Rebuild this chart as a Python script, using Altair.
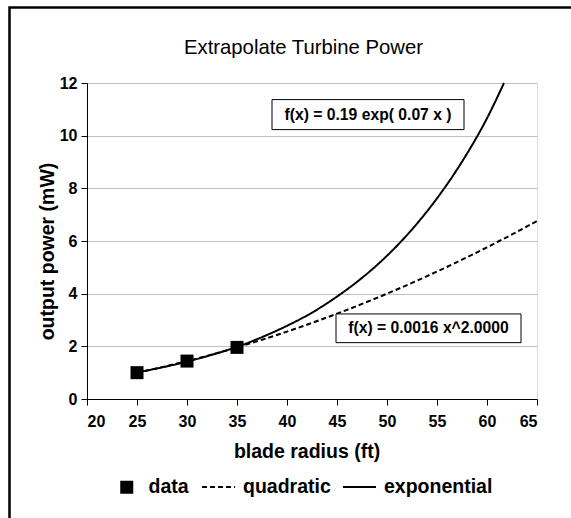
import altair as alt
import pandas as pd

FONT = "Liberation Sans"

series_names = ["data", "quadratic", "exponential"]

# measured data points
radius = [25, 30, 35]
power = [1.00, 1.44, 1.96]

# quadratic (power-law) trend line
quad_x = [25, 27.5, 30, 32.5, 35, 37.5, 40, 42.5, 45, 47.5, 50, 52.5, 55, 57.5, 60, 62.5, 65]
quad_y = [1.00, 1.21, 1.44, 1.69, 1.96, 2.25, 2.56, 2.89, 3.24, 3.61, 4.00, 4.41, 4.84, 5.29, 5.76, 6.25, 6.76]

# exponential trend line
exp_x = [25, 27.5, 30, 32.5, 35, 37.5, 40, 42.5, 45, 47.5, 50, 52.5, 55, 57.5, 60, 61.7]
exp_y = [1.01, 1.20, 1.42, 1.68, 1.98, 2.35, 2.78, 3.28, 3.89, 4.60, 5.44, 6.44, 7.62, 9.01, 10.66, 12.0]

# fit annotations (text, centre, and box corners in data units)
fit_text = ["f(x) = 0.19 exp( 0.07 x )", "f(x) = 0.0016 x^2.0000"]
fit_cx = [48.1, 54.15]
fit_cy = [10.77, 2.68]
box_x1 = [38.5, 44.9]
box_x2 = [57.7, 63.4]
box_y1 = [11.37, 3.23]
box_y2 = [10.23, 2.14]

pts = pd.DataFrame({"x": radius, "y": power, "series": [series_names[0]] * len(radius)})
lines = pd.concat([
    pd.DataFrame({"x": quad_x, "y": quad_y, "series": series_names[1]}),
    pd.DataFrame({"x": exp_x, "y": exp_y, "series": series_names[2]}),
])
ann = pd.DataFrame({"text": fit_text, "cx": fit_cx, "cy": fit_cy,
                    "x1": box_x1, "x2": box_x2, "y1": box_y1, "y2": box_y2})

W, H = 450, 316

xscale = alt.Scale(domain=[20, 65], nice=False, zero=False)
yscale = alt.Scale(domain=[0, 12], nice=False)

xaxis = alt.Axis(values=list(range(20, 66, 5)), grid=False, title="blade radius (ft)",
                 domainColor="black", tickColor="black", tickSize=6,
                 labelFont=FONT, labelFontSize=16, labelFontWeight="bold", labelColor="black",
                 labelPadding=8,
                 titleFont=FONT, titleFontSize=19.5, titleFontWeight="bold", titleColor="black",
                 titleBaseline="alphabetic", titleY=58.7, titleX=219.5)
yaxis = alt.Axis(values=list(range(0, 13, 2)), grid=True, gridColor="#c0c0c0", title="output power (mW)",
                 domainColor="black", tickColor="black", tickSize=6,
                 labelFont=FONT, labelFontSize=16, labelFontWeight="bold", labelColor="black",
                 labelPadding=4,
                 titleFont=FONT, titleFontSize=19.5, titleFontWeight="bold", titleColor="black",
                 titleBaseline="alphabetic", titleX=-34, titleY=168)

legend_style = dict(
    title=None, orient="none", direction="horizontal",
    labelFont=FONT, labelFontSize=19.5, labelFontWeight="bold", labelColor="black",
    padding=0, symbolOpacity=1,
)
legend_points = alt.Legend(legendX=30, legendY=394.5, symbolSize=169, labelOffset=12,
                           columnPadding=14,
                           symbolFillColor="black", symbolStrokeWidth=0, **legend_style)
legend_lines = alt.Legend(legendX=114, legendY=386.5, symbolSize=1089, labelOffset=7,
                          columnPadding=8,
                          symbolStrokeColor="black", symbolStrokeWidth=2, symbolType="stroke",
                          **legend_style)

frame = alt.Chart(pd.DataFrame({"k": [0]})).mark_rect(
    filled=False, stroke="black", strokeWidth=2.5, clip=False
).encode(x=alt.value(-77.5), x2=alt.value(W + 60), y=alt.value(-75.5), y2=alt.value(H + 140))

line_layer = alt.Chart(lines).mark_line(color="black", strokeWidth=2, interpolate="monotone").encode(
    x=alt.X("x:Q", scale=xscale, axis=xaxis),
    y=alt.Y("y:Q", scale=yscale, axis=yaxis),
    detail="series:N",
    strokeDash=alt.StrokeDash("series:N", scale=alt.Scale(domain=series_names[1:],
                              range=[[5, 3], [1, 0]]), legend=legend_lines),
)

point_layer = alt.Chart(pts).mark_point(filled=True, color="black", opacity=1).encode(
    x=alt.X("x:Q", scale=xscale, axis=xaxis),
    y=alt.Y("y:Q", scale=yscale, axis=yaxis),
    shape=alt.Shape("series:N", scale=alt.Scale(domain=series_names[:1], range=["square"]),
                    legend=legend_points),
    size=alt.value(169),
)

boxes = alt.Chart(ann).mark_rect(fill="white", stroke="black", strokeWidth=1).encode(
    x=alt.X("x1:Q", scale=xscale, axis=xaxis), x2="x2:Q",
    y=alt.Y("y1:Q", scale=yscale, axis=yaxis), y2="y2:Q",
)
texts = alt.Chart(ann).mark_text(font=FONT, fontSize=15.7, fontWeight="bold", color="black",
                                 align="center", baseline="middle").encode(
    x=alt.X("cx:Q", scale=xscale, axis=xaxis),
    y=alt.Y("cy:Q", scale=yscale, axis=yaxis),
    text="text:N",
)

chart = alt.layer(frame, line_layer, boxes, texts, point_layer).properties(
    width=W, height=H,
    title=alt.TitleParams("Extrapolate Turbine Power", font=FONT, fontSize=20.3, fontWeight="normal",
                          color="black", anchor="middle", frame="group", baseline="alphabetic",
                          offset=0, dy=67.75, dx=-8.5),
    autosize=alt.AutoSizeParams(type="none"),
    padding={"left": 87, "top": 83, "right": 571 - 87 - W, "bottom": 518 - 83 - H},
).configure_view(stroke="#b0b0b0", strokeWidth=1).configure(background="white")

chart.save("out.html", embed_options={"renderer": "svg", "actions": False})
